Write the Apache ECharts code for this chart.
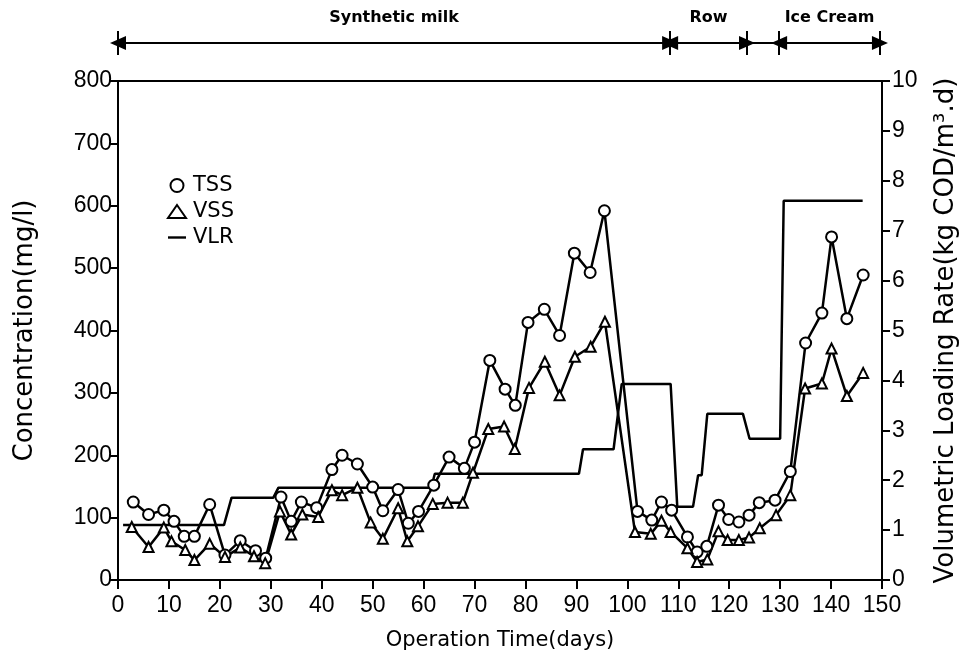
<!DOCTYPE html>
<html>
<head>
<meta charset="utf-8">
<script src="https://cdn.jsdelivr.net/npm/echarts@6/dist/echarts.min.js"></script>
<style>
  html, body { margin: 0; padding: 0; background: #fff; }
  #chart { width: 971px; height: 657px; }
</style>
</head>
<body>
<div id="chart"></div>
<script>
// values
const tssDays = [3, 6, 9, 11, 13, 15, 18, 21, 24, 27, 29, 32, 34, 36, 39, 42, 44, 47, 50, 52, 55, 57, 59, 62, 65, 68, 70, 73, 76, 78, 80.5, 83.7, 86.7, 89.6, 92.7, 95.5, 102, 104.8, 106.7, 108.7, 111.8, 113.7, 115.6, 117.9, 119.9, 121.9, 123.9, 125.9, 129, 132, 135, 138.2, 140.1, 143.1, 146.3]
const tssVals = [125, 105, 112, 94, 70, 70, 121, 40, 63, 47, 35, 133, 94, 125, 116, 177, 200, 186, 149, 111, 145, 91, 110, 152, 197, 179, 221, 352, 306, 280, 413, 434, 392, 524, 493, 592, 110, 96, 125, 112, 69, 45, 54, 120, 97, 93, 104, 124, 128, 174, 380, 428, 550, 419, 489]

const vssDays = [2.7, 6, 9, 10.5, 13.2, 15, 18, 21, 24, 26.7, 28.9, 31.8, 34, 36.2, 39.3, 42, 44, 47, 49.6, 52, 55, 56.8, 58.9, 61.8, 64.7, 67.7, 69.7, 72.7, 75.8, 77.9, 80.7, 83.8, 86.7, 89.7, 92.8, 95.6, 101.5, 104.6, 106.7, 108.5, 111.8, 113.7, 115.7, 117.9, 119.7, 121.9, 123.9, 126, 129.2, 132, 134.9, 138.2, 140.1, 143.1, 146.3]
const vssVals = [85, 53, 84, 62, 48, 32, 58, 37, 52, 38, 27, 110, 73, 105, 101, 144, 136, 148, 92, 66, 115, 62, 86, 122, 124, 124, 172, 242, 246, 210, 308, 350, 296, 358, 374, 414, 77, 74, 95, 77, 51, 29, 33, 78, 64, 64, 68, 83, 104, 136, 307, 315, 371, 295, 332]

const vlrDays = [1, 20.8, 22.3, 30.5, 31.5, 61.5, 62.2, 90.5, 91.3, 97.3, 98.9, 108.5, 109.8, 112.9, 113.9, 114.6, 115.7, 122.7, 124, 130, 130.7, 146.2]
const vlrVals = [1.1, 1.1, 1.65, 1.65, 1.85, 1.85, 2.13, 2.13, 2.62, 2.62, 3.93, 3.93, 1.47, 1.47, 2.1, 2.1, 3.33, 3.33, 2.83, 2.83, 7.6, 7.6]

// feed phases: name, start day, end day
const phases = [['Synthetic milk', 0, 108.4], ['Row', 108.4, 123.5], ['Ice Cream', 129.8, 149.6]]
const phaseBars = [0, 108.4, 123.5, 129.8, 149.6]

const font = 'DejaVu Sans'
const tickFont = 'Liberation Sans'
const zip = (a, b) => a.map((d, i) => [d, b[i]])

let myChart = echarts.init(document.getElementById('chart'))

// arrows on top
let phaseLines = phases.map(p => [
    { coord: [p[1], 0], symbol: 'triangle', name: p[0] },
    { coord: [p[2], 0], symbol: 'triangle' }
])
phaseLines.push([{ coord: [123.5, 0], symbol: 'none' }, { coord: [129.8, 0], symbol: 'none' }])
phaseBars.forEach(d => {
    phaseLines.push([{ coord: [d, -1], symbol: 'none' }, { coord: [d, 1], symbol: 'none' }])
})

const axisLabel = { fontSize: 23, color: '#000', margin: 6, fontFamily: tickFont }
const titleStyle = { fontSize: 26, fontFamily: font, color: '#000' }

let option = {
    animation: false,
    backgroundColor: '#fff',
    textStyle: { fontFamily: font, color: '#000' },
    legend: {
        orient: 'vertical',
        left: 162,
        top: 170,
        itemGap: 5,
        itemWidth: 18,
        itemHeight: 13,
        textStyle: { fontSize: 21, color: '#000', fontFamily: font, padding: [0, 0, 0, 2] },
        data: [
            { name: 'TSS', icon: 'emptyCircle' },
            { name: 'VSS', icon: 'emptyTriangle' },
            { name: 'VLR', icon: 'path://M0,0H18V2.4H0Z' }
        ]
    },
    grid: [
        { left: 118, right: 89, top: 81, bottom: 77, show: true, borderColor: '#000', borderWidth: 2 },
        { left: 118, right: 89, top: 31, height: 24 }
    ],
    xAxis: [
        {
            type: 'value', min: 0, max: 150, interval: 10,
            name: 'Operation Time(days)', nameLocation: 'middle', nameGap: 50,
            nameTextStyle: { fontSize: 21, fontFamily: font, color: '#000' },
            axisLine: { lineStyle: { color: '#000', width: 2 } },
            axisTick: { length: 9, lineStyle: { width: 2 } },
            axisLabel: Object.assign({}, axisLabel, { margin: 14 }),
            splitLine: { show: false }
        },
        { gridIndex: 1, type: 'value', min: 0, max: 150, show: false }
    ],
    yAxis: [
        {
            type: 'value', min: 0, max: 800, interval: 100,
            name: 'Concentration(mg/l)', nameLocation: 'middle', nameGap: 80, nameRotate: 90,
            nameTextStyle: titleStyle,
            axisLine: { show: true, lineStyle: { color: '#000', width: 2 } },
            axisTick: { show: true, length: 8, lineStyle: { width: 2 } },
            axisLabel: axisLabel,
            splitLine: { show: false }
        },
        {
            type: 'value', min: 0, max: 10, interval: 1, position: 'right',
            name: 'Volumetric Loading Rate(kg COD/m³.d)', nameLocation: 'middle', nameGap: 51, nameRotate: 90,
            nameTextStyle: titleStyle,
            axisLine: { show: true, lineStyle: { color: '#000', width: 2 } },
            axisTick: { show: true, length: 8, lineStyle: { width: 2 } },
            axisLabel: Object.assign({}, axisLabel, { margin: 10 }),
            splitLine: { show: false }
        },
        { gridIndex: 1, type: 'value', min: -1, max: 1, show: false }
    ],
    series: [
        {
            name: 'TSS', type: 'line', data: zip(tssDays, tssVals),
            symbol: 'emptyCircle', symbolSize: 11,
            itemStyle: { color: '#000', borderColor: '#000', borderWidth: 2 },
            lineStyle: { color: '#000', width: 2.5 }
        },
        {
            name: 'VSS', type: 'line', data: zip(vssDays, vssVals),
            symbol: 'emptyTriangle', symbolSize: 10,
            itemStyle: { color: '#000', borderColor: '#000', borderWidth: 2.5 },
            lineStyle: { color: '#000', width: 2.5 }
        },
        {
            name: 'VLR', type: 'line', yAxisIndex: 1, data: zip(vlrDays, vlrVals),
            symbol: 'none',
            itemStyle: { color: '#000' },
            lineStyle: { color: '#000', width: 2.5 }
        },
        {
            name: 'phases', type: 'line', xAxisIndex: 1, yAxisIndex: 2, data: [],
            markLine: {
                silent: true,
                symbolSize: [14, 16],
                lineStyle: { color: '#000', width: 2, type: 'solid' },
                label: {
                    show: true,
                    position: 'insideMiddleTop',
                    distance: 17,
                    fontSize: 16,
                    fontWeight: 'bold',
                    color: '#000',
                    fontFamily: font,
                    formatter: p => p.name || ''
                },
                data: phaseLines
            }
        }
    ]
}

myChart.setOption(option)
</script>
</body>
</html>
